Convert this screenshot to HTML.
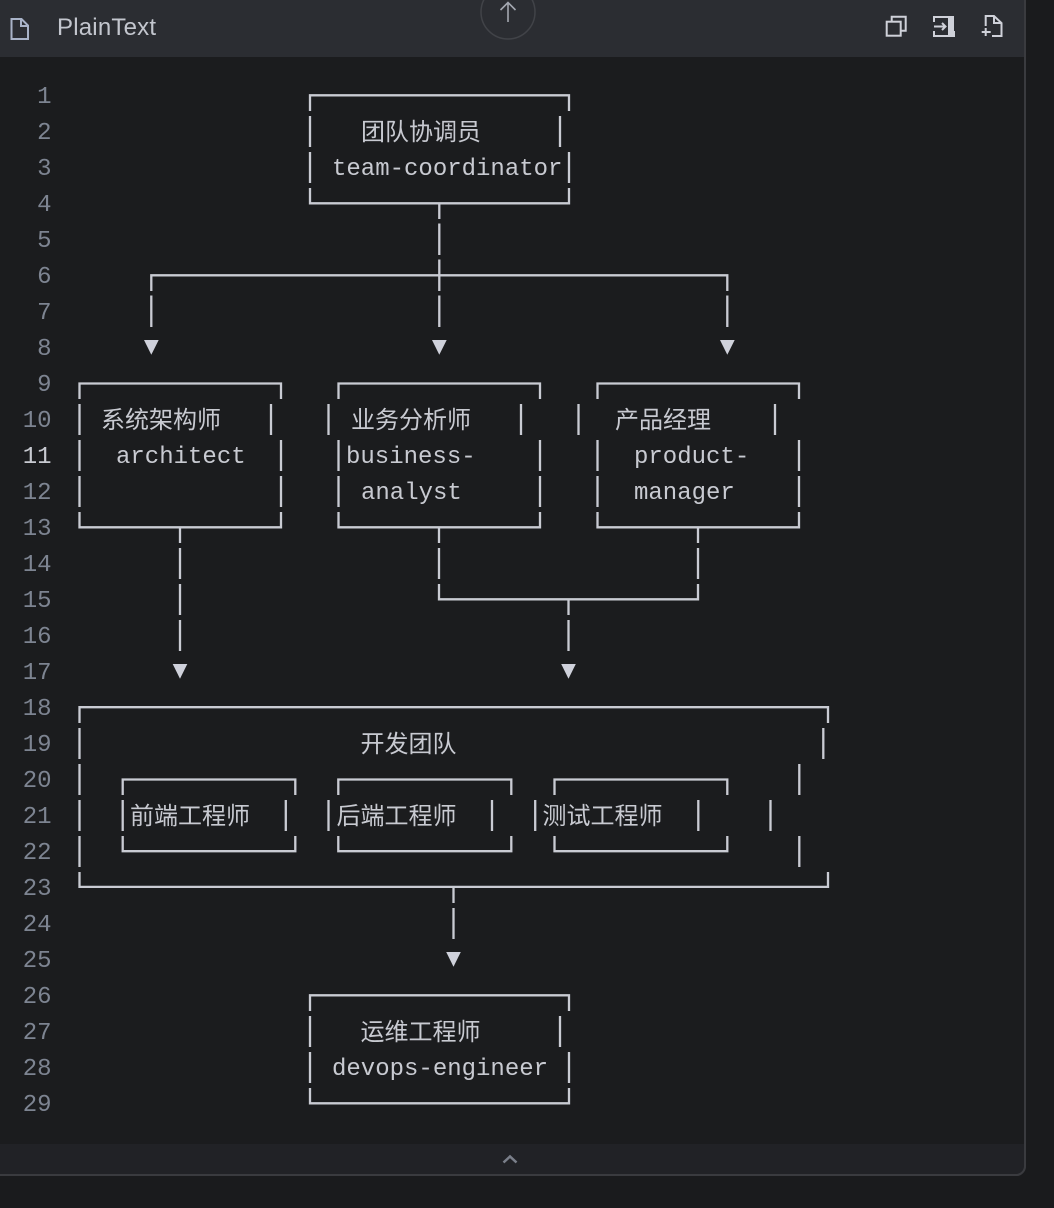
<!DOCTYPE html>
<html><head><meta charset="utf-8"><style>
html,body{margin:0;padding:0;background:#1a1b1d;width:1054px;height:1208px;overflow:hidden}
svg{display:block}
.m{font-family:"Liberation Mono",monospace;font-size:24px;fill:#c8cad1}
.c{font-family:"Liberation Sans","Noto Sans CJK SC",sans-serif;font-size:24px;fill:#c8cad1}
.n{font-family:"Liberation Mono",monospace;font-size:24px;fill:#7d8491;text-anchor:end}
</style></head><body>
<svg width="1054" height="1208" viewBox="0 0 1054 1208" xmlns="http://www.w3.org/2000/svg">
<rect x="0" y="0" width="1054" height="1208" fill="#1a1b1d"/>
<rect x="-10" y="-10" width="1035" height="1185" rx="9" fill="#1b1c1e" stroke="#3a3b3f" stroke-width="2"/>
<rect x="0" y="0" width="1024" height="57" fill="#2b2d32"/>
<path d="M0 1144H1024V1166a8 8 0 0 1-8 8H0Z" fill="#212226"/>
<path d="M1025 0V1166a9 9 0 0 1-9 9H0" fill="none" stroke="#3a3b3f" stroke-width="2"/>
<circle cx="508" cy="12" r="27" fill="#2b2d32" stroke="#414348" stroke-width="1.5"/>
<path d="M508 22V2.500M500.500 10l7.500-7.500 7.500 7.500" fill="none" stroke="#a3a7b0" stroke-width="1.6"/>
<path d="M11.500 19h10l6.500 6.500v13.500h-16.500zM21 19v7h7" fill="none" stroke="#a9b3c8" stroke-width="2"/>
<text x="57" y="35" font-family="'Liberation Sans',sans-serif" font-size="24" letter-spacing=".2" fill="#c3c6ce">PlainText</text>
<g fill="none" stroke="#cfd1d9" stroke-width="2">
<rect x="886.700" y="21.700" width="14" height="14"/><path d="M891.700 21.700v-5h14v14h-5"/>
<path d="M954 31v5h-20v-5M934 22v-5h20"/><path d="M934 26.500h11M942 23l3.500 3.500-3.500 3.500"/>
<path d="M985.700 26V16H994L1001.500 23V36H992M994 16v7h7.500M981.700 32h9M985.700 28v8"/>
</g>
<rect x="948" y="16" width="6" height="20.500" fill="#cfd1d9"/>
<path d="M503.500 1162.500L510 1156.500L516.500 1162.500" fill="none" stroke="#7a7f8a" stroke-width="2.500"/>

<g class="n">
<text x="51.500" y="103">1</text><text x="51.500" y="139">2</text><text x="51.500" y="175">3</text><text x="51.500" y="211">4</text><text x="51.500" y="247">5</text><text x="51.500" y="283">6</text><text x="51.500" y="319">7</text><text x="51.500" y="355">8</text><text x="51.500" y="391">9</text><text x="51.500" y="427">10</text><text x="51.500" y="463" style="fill:#c8cad1">11</text><text x="51.500" y="499">12</text><text x="51.500" y="535">13</text><text x="51.500" y="571">14</text><text x="51.500" y="607">15</text><text x="51.500" y="643">16</text><text x="51.500" y="679">17</text><text x="51.500" y="715">18</text><text x="51.500" y="751">19</text><text x="51.500" y="787">20</text><text x="51.500" y="823">21</text><text x="51.500" y="859">22</text><text x="51.500" y="895">23</text><text x="51.500" y="931">24</text><text x="51.500" y="967">25</text><text x="51.500" y="1003">26</text><text x="51.500" y="1039">27</text><text x="51.500" y="1075">28</text><text x="51.500" y="1111">29</text>
</g>

<g fill="none" stroke="#c9cbd3" stroke-width="2.300">
<path d="M310 111V95.300H569V111M310 116V147M560 116V147M310 152V183M569 152V183M310 188V203.300H569V188"/>
<path d="M439.300 204V219M439.300 223.500V255M439.300 259.500V291M439.300 295.500V327"/>
<path d="M151.300 291V275.300H727.300V291M151.300 295.500V327M727.300 295.500V327"/>
<path d="M79.500 399V383.500H281V399M79.500 404V435M271 404V435M79.500 440V471M281 440V471M79.500 476V507M281 476V507M79.500 512V527.300H281V512"/>
<path d="M338.500 399V383.500H540V399M328.500 404V435M521 404V435M338.500 440V471M540 440V471M338.500 476V507M540 476V507M338.500 512V527.300H540V512"/>
<path d="M597.500 399V383.500H799V399M578.500 404V435M775 404V435M597.500 440V471M799 440V471M597.500 476V507M799 476V507M597.500 512V527.300H799V512"/>
<path d="M180 528V543M180 548V579M180 584V615M180 620V651"/>
<path d="M439 528V543M439 548V579M439 584V599.300H698V584M698 528V543M698 548V579M568.500 600V615M568.500 620V651"/>
<path d="M79.500 723V707.200H828V723M79.500 728V759M823.300 728V759M79.500 764V795M799.300 764V795M79.500 800V831M770.500 800V831M79.500 836V867M799.300 836V867M79.500 872V886.900H828V872"/>
<path d="M122.700 795V779.500H295.300V795M122.700 800V831M285.800 800V831M122.700 836V851.200H295.300V836"/>
<path d="M338.300 795V779.500H511.300V795M328.500 800V831M492 800V831M338.300 836V851.200H511.300V836"/>
<path d="M554.500 795V779.500H727.300V795M535.200 800V831M698.300 800V831M554.500 836V851.200H727.300V836"/>
<path d="M453.500 888V903M453.500 908V939"/>
<path d="M310 1011V995.300H569V1011M310 1016V1047M560 1016V1047M310 1052V1083M569 1052V1083M310 1088V1103.300H569V1088"/>
</g>
<g fill="#cfd1db">
<path d="M144 340H158.700L151.300 354.700Z"/><path d="M432 340H446.700L439.300 354.700Z"/><path d="M720 340H734.700L727.300 354.700Z"/>
<path d="M172.700 664H187.300L180 678.700Z"/><path d="M561.200 664H575.800L568.500 678.700Z"/>
<path d="M446.200 952H460.800L453.500 966.700Z"/>
</g>

<text class="c" x="361" y="140">团队协调员</text>
<text class="m" x="332" y="175">team-coordinator</text>
<text class="c" x="101" y="428">系统架构师</text>
<text class="m" x="116" y="463">architect</text>
<text class="c" x="351" y="428">业务分析师</text>
<text class="m" x="346" y="463">business-</text>
<text class="m" x="361" y="499">analyst</text>
<text class="c" x="615" y="428">产品经理</text>
<text class="m" x="634" y="463">product-</text>
<text class="m" x="634" y="499">manager</text>
<text class="c" x="360.500" y="752">开发团队</text>
<text class="c" x="130" y="824">前端工程师</text>
<text class="c" x="336.500" y="824">后端工程师</text>
<text class="c" x="542.500" y="824">测试工程师</text>
<text class="c" x="360.500" y="1040">运维工程师</text>
<text class="m" x="332" y="1075">devops-engineer</text>
</svg>
</body></html>
